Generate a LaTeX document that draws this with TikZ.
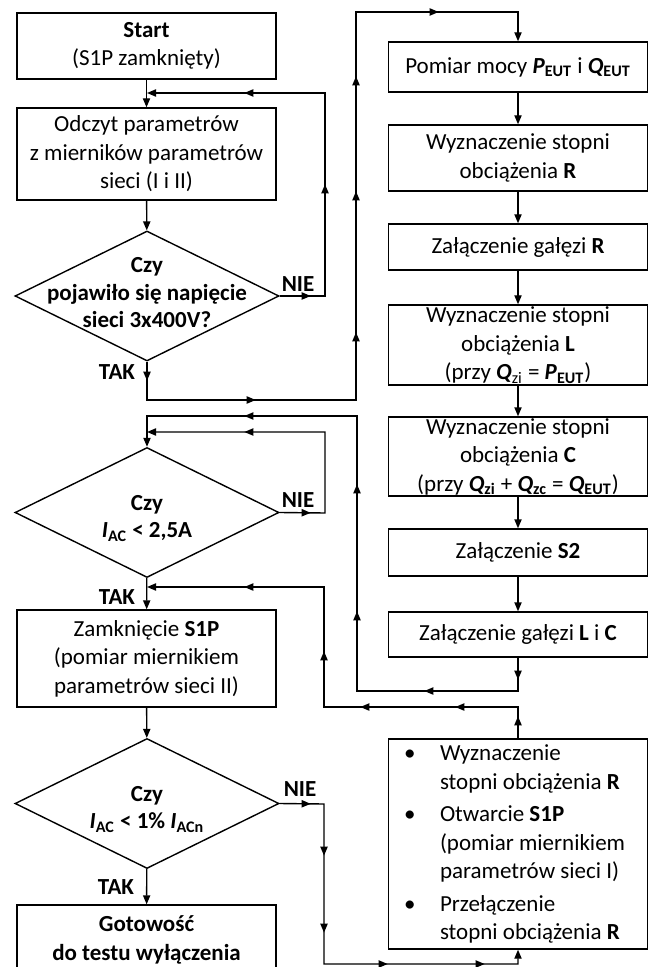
\documentclass[tikz,border=0pt]{standalone}
\usepackage{fontspec}
\setmainfont{Carlito}
\usetikzlibrary{arrows.meta,shapes.geometric,decorations.markings}

\newcommand{\bi}[1]{\textbf{\textit{#1}}}
\newcommand{\dtxt}[2][-6pt]{\makebox[0pt]{\smash{\raisebox{#1}{\begin{tabular}{c}#2\end{tabular}}}}}
\newcommand{\bul}{\makebox[18pt][l]{\textbullet}}
\newcommand{\itemind}{\hspace*{18pt}}

\begin{document}
\begin{tikzpicture}[x=0.5pt,y=-0.5pt,line width=0.7pt,
		font=\fontsize{11.5pt}{14.25pt}\selectfont,
		>={Triangle[length=4.5pt,width=3.6pt]},
		box/.style={draw,rectangle,minimum width=129.5pt,minimum height=#1,inner xsep=2pt,inner ysep=0pt,align=center},
		dec/.style={draw,diamond,inner sep=0pt,minimum width=132pt,minimum height=65pt,font=\fontsize{11.5pt}{13.75pt}\selectfont\bfseries},
		lab/.style={inner sep=0pt,font=\fontsize{11.5pt}{13.75pt}\selectfont\bfseries},
		mid/.style={postaction={decorate,decoration={markings,mark=at position #1 with {\arrow{>}}}}}]
			\useasboundingbox (0,0) rectangle (648,967);
			\clip (0,0) rectangle (648,967);

			% left column
			\node[box=33pt] (start) at (146.5,46) {\textbf{Start}\\(S1P zamknięty)};
			\node[box=46pt] (odczyt) at (146.5,154) {Odczyt parametrów\\z mierników parametrów\\sieci (I i II)};
			\node[dec] (d1) at (147,296) {\dtxt[-2.5pt]{Czy\\pojawiło się napięcie\\sieci 3x400V?}};
			\node[dec] (d2) at (147,512.5) {\dtxt{Czy\\\textit{I}\textsubscript{AC} < 2,5A}};
			\node[box=48.5pt] (zamk) at (146.5,658.5) {Zamknięcie \textbf{S1P}\\(pomiar miernikiem\\parametrów sieci II)};
			\node[dec] (d3) at (147,803.5) {\dtxt{Czy\\\textit{I}\textsubscript{AC} < 1\% \textit{I}\textsubscript{ACn}}};
			\node[box=35pt] (gotow) at (146.5,940) {\textbf{Gotowość}\\\textbf{do testu wyłączenia}};

			% right column
			\node[box=25pt] (pomiar) at (518,67) {Pomiar mocy \bi{P}\textsubscript{\textbf{EUT}} i \bi{Q}\textsubscript{\textbf{EUT}}};
			\node[box=33pt] (wyzR) at (518,158) {Wyznaczenie stopni\\obciążenia \textbf{R}};
			\node[box=23pt] (zalR) at (518,247) {Załączenie gałęzi \textbf{R}};
			\node[box=40pt] (wyzL) at (518,345) {Wyznaczenie stopni\\obciążenia \textbf{L}\\(przy \bi{Q}\textsubscript{zi} = \bi{P}\textsubscript{\textbf{EUT}})};
			\node[box=39.5pt] (wyzC) at (518,456.5) {Wyznaczenie stopni\\obciążenia \textbf{C}\\(przy \bi{Q}\textsubscript{\textbf{zi}} + \bi{Q}\textsubscript{\textbf{zc}} = \bi{Q}\textsubscript{\textbf{EUT}})};
			\node[box=23.5pt] (zalS2) at (518,552.5) {Załączenie \textbf{S2}};
			\node[box=22.5pt] (zalLC) at (518,634.5) {Załączenie gałęzi \textbf{L} i \textbf{C}};
			\node[box=105pt,align=flush left,text width=114pt,inner xsep=7.5pt] (bull) at (518,844) {\bul Wyznaczenie\\\itemind stopni obciążenia \textbf{R}\\[2pt]\bul Otwarcie \textbf{S1P}\\\itemind (pomiar miernikiem\\\itemind parametrów sieci I)\\[2pt]\bul Przełączenie\\\itemind stopni obciążenia \textbf{R}};

			% labels
			\node[lab] (nie1) at (298,284) {NIE};
			\node[lab] (tak1) at (117,372) {TAK};
			\node[lab] (nie2) at (298,500) {NIE};
			\node[lab] (tak2) at (117,597) {TAK};
			\node[lab] (nie3) at (300,789) {NIE};
			\node[lab] (tak3) at (116,887) {TAK};

			% bends
			\coordinate (j1) at (147,93);
			\coordinate (n1a) at (325,296);
			\coordinate (n1b) at (325,93);
			\coordinate (t1a) at (147,400);
			\coordinate (t1b) at (356,400);
			\coordinate (t1c) at (356,12);
			\coordinate (t1d) at (518,12);
			\coordinate (r1a) at (518,691);
			\coordinate (r1b) at (357,691);
			\coordinate (r1c) at (357,416);
			\coordinate (r1d) at (147,416);
			\coordinate (j2) at (147,432);
			\coordinate (n2a) at (325,513);
			\coordinate (n2b) at (325,432);
			\coordinate (r2a) at (518,707);
			\coordinate (r2b) at (324,707);
			\coordinate (r2c) at (324,587);
			\coordinate (j3) at (147,587);
			\coordinate (n3a) at (324,804);
			\coordinate (n3b) at (324,964);
			\coordinate (n3c) at (518,964);

			% connectors
			\draw[->] (start) -- (odczyt);
			\draw[->] (odczyt) -- (d1);
			\draw[->,mid=15.5pt,mid=78.5pt,mid=164.5pt] (d1.east) -- (n1a) -- (n1b) -- (j1);
			\draw[->,mid=9.5pt,mid=73.5pt,mid=157.5pt,mid=228pt,mid=285.5pt,mid=359pt] (d1.south) -- (t1a) -- (t1b) -- (t1c) -- (t1d) -- (pomiar.north);
			\draw[->] (pomiar) -- (wyzR);
			\draw[->] (wyzR) -- (zalR);
			\draw[->] (zalR) -- (wyzL);
			\draw[->] (wyzL) -- (wyzC);
			\draw[->] (wyzC) -- (zalS2);
			\draw[->] (zalS2) -- (zalLC);
			\draw[->,mid=11pt,mid=63.5pt,mid=137pt,mid=200.5pt,mid=291pt] (zalLC.south) -- (r1a) -- (r1b) -- (r1c) -- (r1d) -- (d2.north);
			\draw[->,mid=15.5pt,mid=103.5pt] (d2.east) -- (n2a) -- (n2b) -- (j2);
			\draw[->] (d2) -- (zamk);
			\draw[->,mid=11pt,mid=47pt,mid=94.5pt,mid=140.5pt,mid=212.5pt] (bull.north) -- (r2a) -- (r2b) -- (r2c) -- (j3);
			\draw[->] (zamk) -- (d3);
			\draw[->,mid=15.5pt,mid=48pt,mid=86.5pt,mid=134pt,mid=182.5pt] (d3.east) -- (n3a) -- (n3b) -- (n3c) -- (bull.south);
			\draw[->] (d3) -- (gotow);
		\end{tikzpicture}
\end{document}
